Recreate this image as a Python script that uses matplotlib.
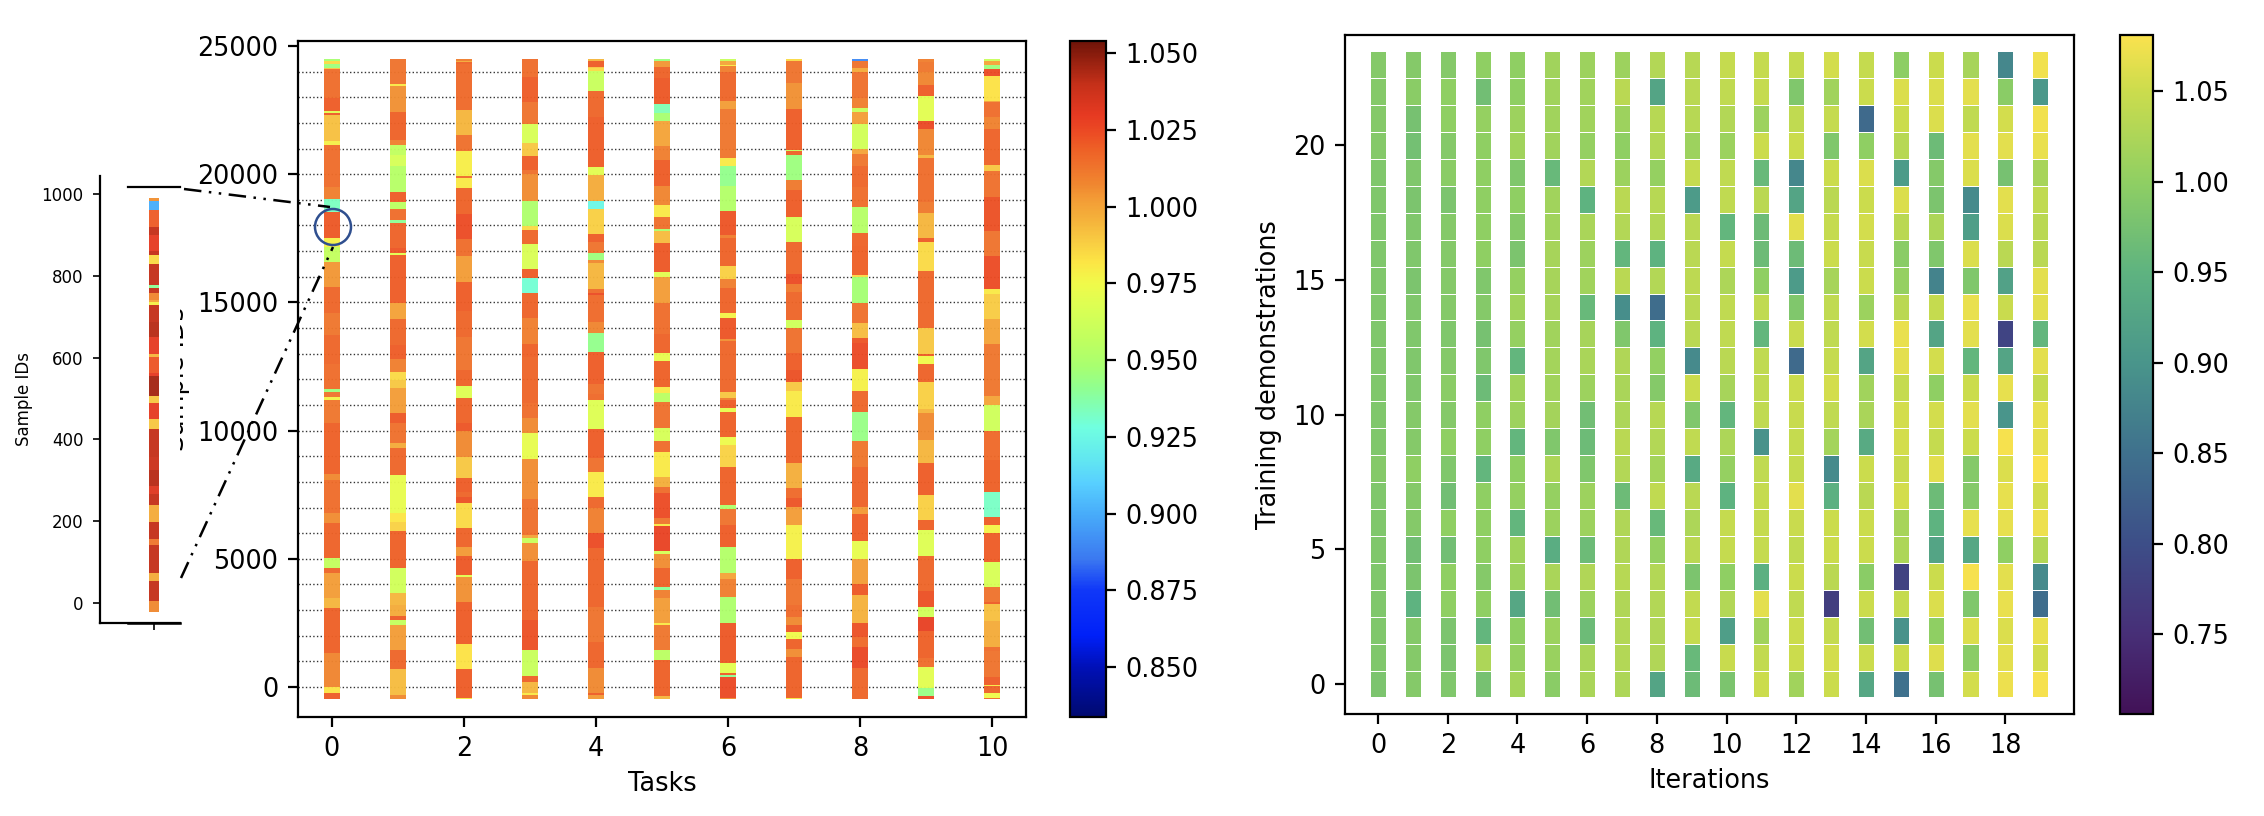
import numpy as np
import matplotlib
matplotlib.use('Agg')
import matplotlib.pyplot as plt
from matplotlib.colors import Normalize, LinearSegmentedColormap
from matplotlib.cm import ScalarMappable
from matplotlib.lines import Line2D
from matplotlib.patches import Circle

# each task: (top sample id of the band, value), bands run down to the next entry
BAND_BOTTOM = -480
task_0 = [(24480,.948),(24430,.985),(24300,.945),(24130,.99),(24090,1.015),(22960,1.02),(22460,.97),(22390,1.02),(22300,.992),(21310,.978),(21125,1.015),(19510,1.01),(19030,.933),(18540,1.021),(17520,.978),(17170,.958),(16590,1.004),(15600,1.017),(14570,1.012),(13730,1.017),(12580,1.015),(11610,.945),(11505,1.013),(11320,.977),(11190,1.012),(10280,1.019),(8310,1.007),(8070,1.015),(6770,1.006),(6410,1.018),(5045,.958),(4630,1.017),(4430,1.002),(3485,.995),(3095,1.019),(1310,1.008),(10,.983),(-220,1.02)]
task_1 = [(24480,1.013),(23520,.98),(23440,1.005),(22440,1.019),(21720,1.018),(21330,1.01),(21125,.957),(20760,.965),(20320,.953),(19320,1.02),(18900,.955),(18640,1.015),(18210,.94),(18080,1.018),(17110,1.022),(16910,.97),(16850,1.02),(14960,1.001),(14350,1.017),(13340,1.02),(12790,1.01),(12300,.985),(11970,.99),(11670,1.002),(10670,1.021),(10280,1.014),(9500,.998),(9320,1.017),(8270,.972),(6800,.982),(6435,.987),(6070,1.019),(4630,.963),(3650,.995),(3200,.998),(2770,1.02),(2610,.958),(2420,1.002),(1440,1.017),(690,.993),(-310,1.007)]
task_2 = [(24480,1.01),(24430,.998),(24360,1.018),(24300,1.016),(22500,.995),(21530,1.014),(20920,.979),(19930,1.015),(19840,.98),(19470,1.018),(18450,1.024),(17460,1.015),(16810,1.002),(15810,1.02),(14660,1.017),(13660,1.013),(12360,1.018),(11740,.968),(11260,1.018),(10310,1.022),(9980,1.007),(8980,.99),(8140,1.02),(7620,1.017),(7420,1.023),(7160,.985),(6190,1.018),(5470,1.003),(5110,1.021),(4370,.97),(4280,1.005),(3300,1.02),(1680,.983),(700,1.02),(-440,.98)]
task_3 = [(24480,1.015),(23800,1.02),(22830,1.013),(21960,.966),(21230,.99),(20720,1.02),(20160,1.014),(19990,1.006),(18970,.95),(17980,.985),(17820,1.017),(17280,.967),(16290,1.02),(15940,.93),(15350,1.018),(14380,1.01),(13380,1.019),(12880,1.017),(11060,1.015),(10480,1.007),(9890,.972),(8880,1.006),(7330,1.014),(5930,1.0),(5820,.96),(5600,1.006),(4930,1.018),(2610,1.023),(1440,.96),(440,1.018),(180,.995),(-250,.98),(-310,1.008)]
task_4 = [(24480,.995),(24430,1.02),(24190,.99),(24130,.985),(24040,.96),(23230,1.017),(22220,1.02),(20270,.97),(19955,.998),(18950,.925),(18640,.988),(17670,1.02),(17370,1.013),(16910,.945),(16650,1.007),(16520,.995),(15510,1.015),(15350,1.024),(15290,1.016),(14250,1.008),(13820,.942),(13080,1.02),(11820,1.014),(11430,1.016),(11190,.968),(10060,1.02),(8920,1.014),(8400,.98),(7400,1.017),(6970,1.01),(5990,1.024),(5430,1.018),(3120,1.013),(1770,1.018),(750,1.007),(-250,1.02),(-310,1.003)]
task_5 = [(24480,.945),(24410,1.004),(24190,1.018),(23740,1.021),(22740,.935),(22400,.948),(22070,1.0),(21100,1.01),(20550,1.02),(19540,1.008),(18800,.98),(18340,1.014),(17860,.95),(17780,.993),(17300,1.021),(16170,.97),(15980,1.002),(14960,1.015),(13770,1.018),(13010,.972),(12710,1.019),(11710,.98),(11450,.955),(11115,1.014),(10090,.965),(9590,1.015),(9165,.98),(8175,.997),(7785,1.015),(7550,1.024),(6580,1.012),(6360,.98),(6280,1.027),(5300,.965),(5185,1.006),(4650,1.019),(3910,.94),(3780,1.01),(3470,1.002),(2480,.98),(2420,1.012),(1440,.955),(1040,1.019),(-350,.995)]
task_6 = [(24480,.96),(24410,1.0),(24260,.98),(24220,1.01),(23990,1.017),(22870,1.002),(22540,1.012),(20620,.98),(20320,.942),(19550,.952),(18560,1.022),(17630,1.01),(17500,1.018),(16420,.988),(15900,1.01),(15550,1.018),(14570,.977),(14400,1.022),(13560,1.005),(13490,1.017),(11520,.99),(11280,1.01),(11190,1.02),(10890,.972),(10740,1.019),(9740,.974),(9450,.987),(8580,1.019),(7100,.95),(6940,1.013),(6320,1.02),(5470,.952),(4460,1.0),(4210,1.01),(3500,.95),(2510,1.021),(950,.97),(560,1.02),(470,.94),(400,1.025),(-440,1.005)]
task_7 = [(24480,.985),(24430,1.013),(23540,1.005),(22540,1.02),(20940,.96),(20900,1.018),(20750,.945),(19770,1.011),(19380,1.02),(18340,.965),(17360,1.017),(16110,1.024),(15720,1.011),(15390,1.017),(14310,.962),(13990,1.014),(13010,1.02),(12360,1.023),(11910,.99),(11530,.98),(10540,1.019),(8720,.997),(7750,1.016),(7380,1.022),(7030,1.002),(6320,.978),(4990,1.02),(4210,1.013),(3200,1.016),(2740,1.007),(2420,1.021),(2130,.975),(1870,1.019),(1480,1.006),(1180,1.019),(-440,.98)]
task_8 = [(24480,.89),(24430,1.013),(24160,.998),(23990,1.014),(22960,1.01),(22590,.96),(22440,1.002),(21960,.963),(20980,1.0),(20790,1.012),(20320,1.017),(19510,1.015),(18710,.953),(17720,1.018),(17200,1.019),(16070,.985),(15980,.947),(14990,1.014),(14210,.993),(13600,1.022),(13400,1.025),(12390,.978),(11540,1.017),(10740,.943),(9610,1.012),(8590,1.018),(7010,1.003),(6750,1.02),(5690,.972),(4990,1.002),(4020,1.021),(3590,.996),(2510,1.023),(1960,1.016),(1550,1.026),(730,1.017)]
task_9 = [(24480,1.01),(24390,1.012),(23990,1.008),(23480,1.02),(23050,.97),(22070,1.025),(21760,1.008),(20750,.995),(20620,1.015),(18930,1.011),(18470,.995),(17500,1.02),(17340,.985),(16240,1.017),(13990,.99),(12990,1.02),(12910,.975),(12600,1.018),(11910,.988),(10840,.995),(10700,1.007),(9630,.995),(8720,1.02),(7490,.988),(6510,1.019),(6120,.968),(5110,1.017),(3760,1.023),(3120,.963),(2740,1.028),(2180,1.019),(1150,1.015),(770,.97),(-50,.943),(-350,1.024)]
task_10 = [(24480,.96),(24410,1.0),(24245,.945),(24115,1.024),(23840,.983),(22870,1.0),(22800,1.015),(22220,1.009),(21760,1.018),(20360,.99),(20120,1.014),(19100,1.023),(17780,1.013),(16810,1.024),(15520,.98),(15330,.989),(14370,1.0),(13380,1.012),(11350,1.0),(11010,.962),(10000,1.016),(8850,1.019),(7620,.932),(6620,1.02),(6320,.977),(5990,1.02),(4890,.966),(3910,1.013),(3300,1.02),(3240,.992),(2590,.998),(1570,1.015),(1420,1.013),(400,1.02),(70,.98),(50,1.018),(-250,.975),(-440,1.015)]
tasks = [task_0, task_1, task_2, task_3, task_4, task_5, task_6, task_7, task_8, task_9, task_10]

# zoomed view of task 0, samples 0-1000
inset_bottom = -23
inset_bands = [(989,1.005),(984,.9),(961,1.02),(920,1.04),(900,1.03),(861,1.04),(851,.985),(828,1.04),(790,1.04),(777,.94),(771,1.04),(759,1.008),(742,1.0),(736,.978),(728,1.04),(688,1.042),(650,1.03),(609,.995),(602,1.022),(562,1.03),(555,1.045),(506,.99),(490,1.03),(449,.99),(425,1.04),(358,1.038),(325,1.042),(286,1.032),(266,1.04),(240,.998),(199,1.04),(156,1.012),(142,1.04),(74,.998),(54,1.04),(6,1.007)]

# right panel, one row per training demonstration count, top row (23) first
demo_rows = [
    [.99,.99,.99,1.0,1.0,1.015,1.012,1.012,1.03,1.033,1.045,1.045,1.045,1.055,1.045,.998,1.05,1.02,.88,1.075],
    [.99,.995,1.0,.97,1.0,1.015,1.015,1.035,.925,1.035,1.04,1.045,.985,1.015,1.05,1.06,1.06,1.065,.995,.905],
    [.99,.975,1.0,1.005,1.012,1.015,1.015,1.012,1.033,1.033,1.03,1.012,1.04,1.045,.84,1.05,1.06,1.04,1.055,1.075],
    [.99,.972,.99,1.0,1.015,1.015,1.005,1.0,1.03,1.012,1.01,1.05,1.05,.985,1.0,1.033,.965,1.065,1.065,1.07],
    [.985,.985,.995,1.0,.985,.96,1.03,1.01,1.005,1.045,1.04,.96,.88,1.05,1.06,.91,.99,1.06,.975,1.02],
    [.985,.98,.98,1.0,1.0,1.015,.95,1.035,1.033,.91,1.04,1.035,.925,1.035,1.05,1.06,.98,.885,1.065,1.04],
    [.985,.985,.99,1.0,.99,1.015,1.022,1.03,1.03,1.035,.955,.965,1.065,1.045,1.055,1.035,1.025,.915,1.06,1.035],
    [.985,.985,.99,1.0,.98,1.02,1.012,.955,.95,1.035,1.045,.965,.965,1.05,1.047,.995,.985,1.06,1.035,1.035],
    [.985,.98,.99,.985,1.005,1.02,1.015,1.035,1.03,1.038,1.025,1.0,.91,1.02,1.05,1.005,.875,.985,.92,1.065],
    [.985,.985,.99,.99,1.015,1.02,.96,.89,.845,1.035,1.04,1.04,.985,1.04,1.01,1.035,1.045,1.07,1.048,1.065],
    [.985,.985,.985,.975,1.005,1.015,1.02,.985,.95,1.035,1.04,.955,1.048,1.04,1.055,1.07,.925,1.065,.785,.955],
    [.985,.985,.99,.985,.955,1.018,1.022,1.027,1.003,.885,1.035,1.04,.84,1.045,.925,1.065,1.055,.955,.925,1.065],
    [.985,.985,.995,.965,1.015,1.015,1.012,1.022,.99,1.05,1.02,1.04,1.05,1.055,1.015,1.045,1.0,1.05,1.068,1.045],
    [.985,.99,.99,1.0,1.012,1.017,.97,1.025,1.033,.985,.955,1.04,1.047,1.04,1.022,1.055,1.055,1.065,.9,1.068],
    [.985,.99,1.0,1.0,.955,.985,.965,1.035,1.03,1.04,1.025,.895,1.045,1.018,.935,1.055,1.045,1.05,1.078,1.068],
    [.99,1.0,.985,.955,1.0,1.025,.985,1.03,1.018,.935,1.005,1.04,1.045,.885,1.05,1.048,1.065,.99,1.06,1.08],
    [.985,.99,.97,1.0,1.005,1.005,1.012,.965,1.04,1.035,.95,1.045,1.065,.945,1.035,1.055,.965,.99,1.068,1.055],
    [.985,.99,1.0,1.0,.955,1.01,1.012,1.027,.96,1.025,1.045,1.045,1.048,1.05,1.05,1.02,.95,1.068,1.068,1.072],
    [.985,.97,.97,1.0,1.015,.94,.965,1.027,1.005,1.035,1.045,1.045,1.04,1.05,1.05,1.025,.925,.93,1.0,1.03],
    [.985,.98,1.0,.99,1.012,1.022,1.028,1.033,1.03,.98,1.0,.945,1.05,1.035,.995,.78,1.05,1.078,1.065,.885],
    [.985,.95,1.0,1.0,.93,.97,1.012,1.027,1.03,1.042,1.03,1.065,1.04,.775,1.05,1.045,1.06,.985,1.07,.845],
    [.985,.99,.98,.955,1.0,1.01,.965,1.03,1.028,1.045,.915,1.015,1.05,1.045,.97,.895,1.0,1.06,1.06,1.07],
    [.985,.99,.98,1.025,1.005,1.008,1.022,1.03,1.028,.96,1.047,1.042,1.05,1.055,1.05,1.05,1.062,.995,1.065,1.055],
    [.98,.99,.985,.975,1.018,.995,1.022,1.025,.925,.965,.98,1.05,1.015,1.05,.93,.85,.975,1.055,1.072,1.078],
]

# colour bars as they look in the picture (value, colour)
left_vmin, left_vmax = 0.8337, 1.054
left_colors = [(.8337,'#000a70'),(.85,'#0010b8'),(.86,'#0020f8'),(.875,'#1038f8'),(.885,'#3b78f0'),(.9,'#48adfa'),
               (.91,'#58d0ff'),(.918,'#62e8f0'),(.928,'#70ffe0'),(.933,'#7cffc0'),(.941,'#90ff90'),(.948,'#a8ff70'),
               (.956,'#beff60'),(.966,'#d8ff55'),(.975,'#f0fa4a'),(.982,'#fce545'),(.989,'#f8cb42'),(.995,'#f5b53c'),
               (1.003,'#f39a35'),(1.007,'#f08830'),(1.0152,'#ef6c2a'),(1.019,'#ee6026'),(1.024,'#ec4c24'),(1.03,'#e63a22'),
               (1.04,'#c53019'),(1.054,'#701408')]
right_vmin, right_vmax = 0.706, 1.081
right_colors = [(.706,'#421157'),(.75,'#472f77'),(.8,'#3d4e88'),(.85,'#3f718d'),(.9,'#49958b'),(.95,'#5eb380'),
                (1.0,'#8fcf63'),(1.05,'#cbdc4d'),(1.081,'#fae24e')]

W, H = 2264, 816
plt.rcParams['font.size'] = 9.2
plt.rcParams['axes.linewidth'] = 0.8


def px_rect(x0, y0, x1, y1):
    # pixel box, measured from the top left of the picture
    return [x0 / W, 1 - y1 / H, (x1 - x0) / W, (y1 - y0) / H]


def fx(x):
    return x / W


def fy(y):
    return 1 - y / H


def make_cmap(name, pairs, vmin, vmax):
    return LinearSegmentedColormap.from_list(name, [((v - vmin) / (vmax - vmin), c) for v, c in pairs], N=512)


def draw_bands(ax, x, bands, bottom, width, norm, cmap):
    tops = [b[0] for b in bands]
    edges = np.array(tops + [bottom])[::-1]
    vals = np.array([b[1] for b in bands])[::-1]
    ax.pcolormesh([x - width / 2, x + width / 2], edges, vals[:, None],
                  cmap=cmap, norm=norm, alpha=0.96, zorder=2, linewidth=0)


fig = plt.figure(figsize=(W / 200, H / 200), dpi=200)

# left panel
ax = fig.add_axes(px_rect(298, 41, 1026, 717))
norm = Normalize(left_vmin, left_vmax)
cmap = make_cmap('left', left_colors, left_vmin, left_vmax)
for s in range(0, 25000, 1000):
    ax.axhline(s, color='#333333', ls=':', lw=0.5, zorder=1)
for i, bands in enumerate(tasks):
    draw_bands(ax, i, bands, BAND_BOTTOM, 0.24, norm, cmap)
ax.set_xlim(-0.515, 10.515)
ax.set_ylim(-1170, 25195)
ax.set_xticks(range(0, 11, 2))
ax.set_yticks(range(0, 25001, 5000))
ax.set_xlabel('Tasks', labelpad=3)
ax.add_patch(Circle((333, H - 227), 18, transform=None, fill=False,
                    ec='#2f4f8f', lw=0.9, zorder=5))

cax = fig.add_axes(px_rect(1070, 41, 1106, 717))
cb = fig.colorbar(ScalarMappable(norm=norm, cmap=cmap), cax=cax)
cb.set_ticks(np.arange(0.85, 1.051, 0.025))
cb.ax.set_yticklabels(['%.3f' % t for t in np.arange(0.85, 1.051, 0.025)])

# sample ids label of the left panel, half hidden behind the zoomed view
fig.text(fx(177), fy(379), 'Sample IDs', rotation=90, ha='center', va='center', fontsize=9.2, zorder=2)

# zoomed view
ins = fig.add_axes(px_rect(100, 176, 180, 623), facecolor='white', zorder=3)
draw_bands(ins, 0, inset_bands, inset_bottom, 0.24, norm, cmap)
ins.set_xlim(-1.3, 0.625)
ins.set_ylim(-49, 1044)
ins.set_xticks([0])
ins.set_xticklabels([])
ins.set_yticks(range(0, 1001, 200))
ins.tick_params(labelsize=6, length=2.5, width=0.6)
ins.set_ylabel('Sample IDs', fontsize=6, labelpad=3)
for side in ['top', 'right']:
    ins.spines[side].set_visible(False)

dashdot = (0, (7, 3, 1, 3, 1, 3))
for xs, ys, ls, lw in [
    ([128, 180], [187, 187], '-', 0.8),
    ([128, 180], [623, 623], '-', 0.9),
    ([184, 330], [189, 207], dashdot, 0.9),
    ([181, 333], [578, 247], dashdot, 0.9),
]:
    fig.add_artist(Line2D([fx(v) for v in xs], [fy(v) for v in ys], color='k', ls=ls, lw=lw, zorder=6))

# right panel
ax2 = fig.add_axes(px_rect(1345, 35, 2074, 714))
demo = np.array(demo_rows)[::-1]
norm2 = Normalize(right_vmin, right_vmax)
cmap2 = make_cmap('right', right_colors, right_vmin, right_vmax)
y_edges = np.arange(demo.shape[0] + 1) - 0.5
for c in range(demo.shape[1]):
    ax2.pcolormesh([c - 0.23, c + 0.23], y_edges, demo[:, c][:, None], cmap=cmap2, norm=norm2,
                   edgecolors='white', linewidth=0.3)
ax2.set_xlim(-0.947, 19.97)
ax2.set_ylim(-1.115, 24.1)
ax2.set_xticks(range(0, 19, 2))
ax2.set_yticks(range(0, 21, 5))
ax2.set_xlabel('Iterations', labelpad=3)
ax2.set_ylabel('Training demonstrations', labelpad=4)

cax2 = fig.add_axes(px_rect(2120, 35, 2153, 714))
cb2 = fig.colorbar(ScalarMappable(norm=norm2, cmap=cmap2), cax=cax2)
cb2.set_ticks(np.arange(0.75, 1.051, 0.05))

fig.savefig('out.png', dpi=200)
